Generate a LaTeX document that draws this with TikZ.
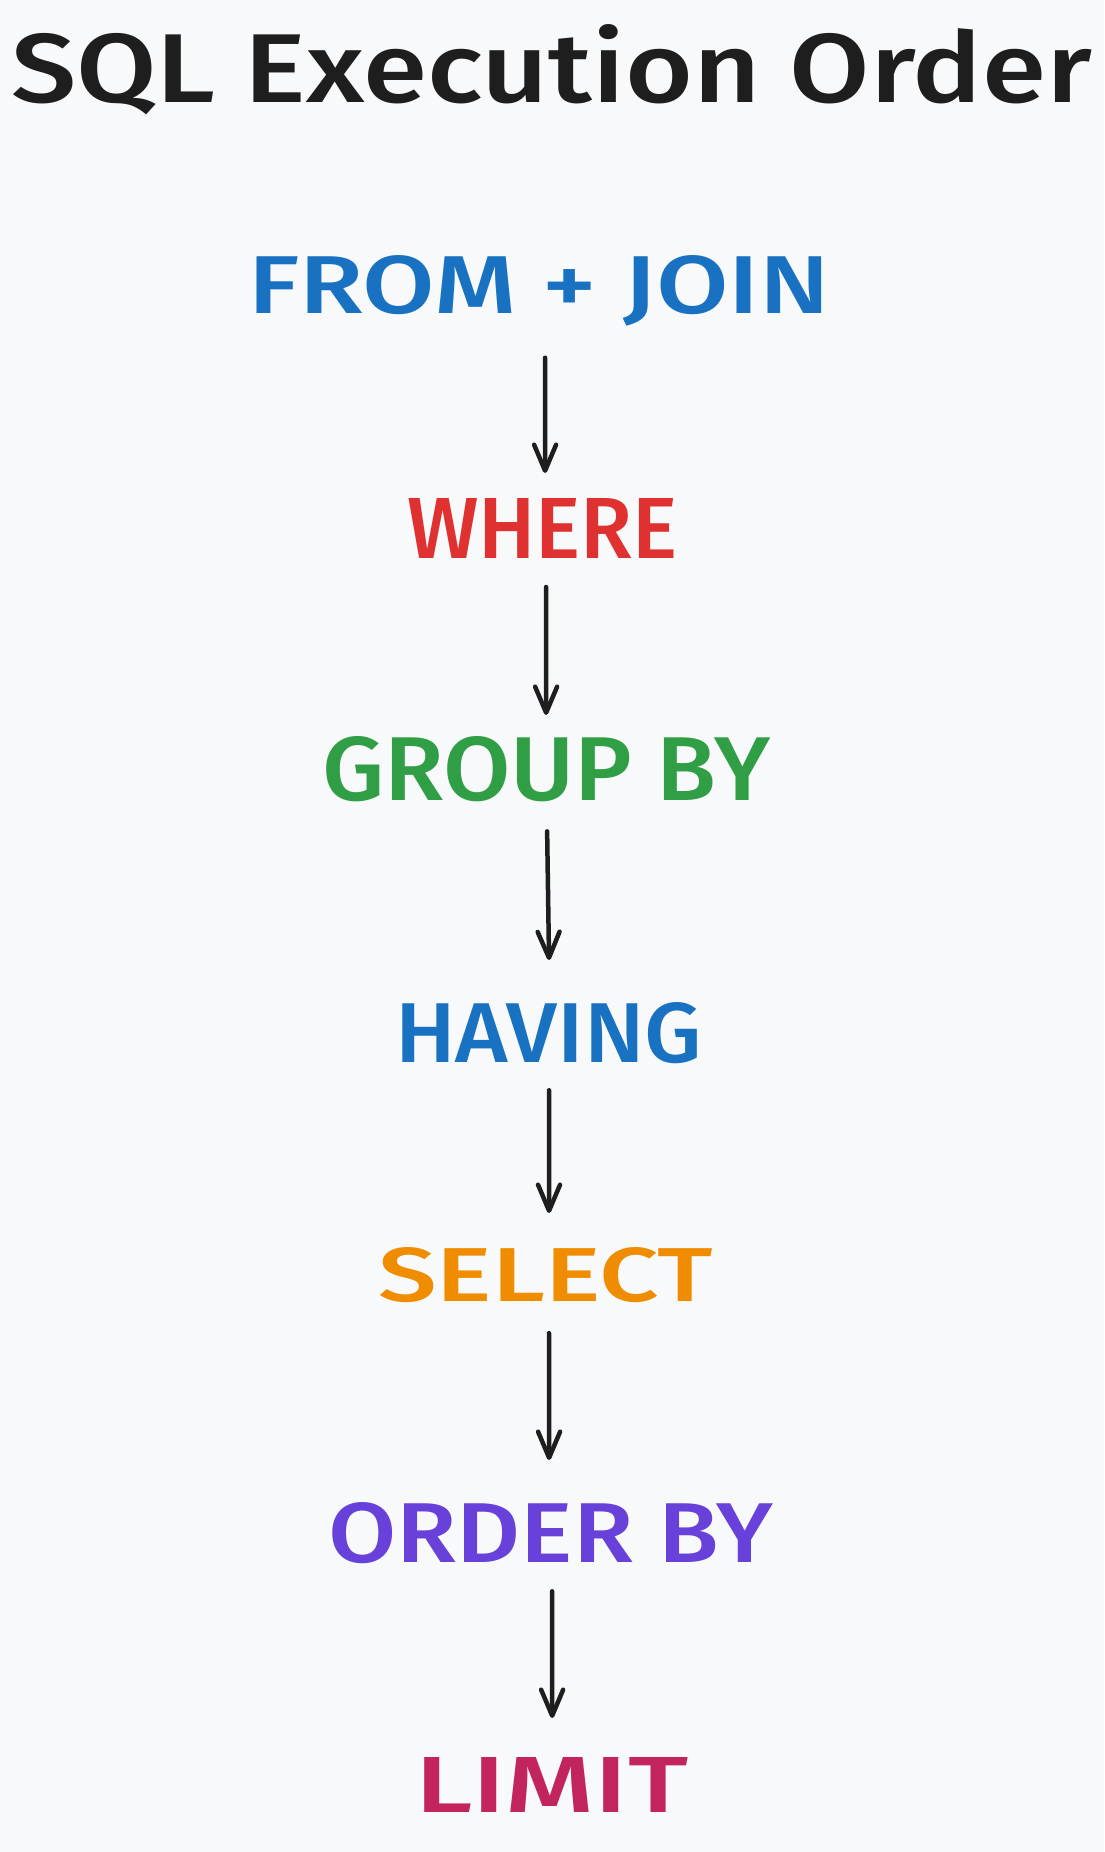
\documentclass[tikz,border=0pt]{standalone}
\usepackage{fontspec}
\setmainfont{Fira Sans}
\newfontfamily\medfont{Fira Sans Medium}
\usetikzlibrary{arrows.meta}
\definecolor{bg}{HTML}{F8F9FA}
\definecolor{ink}{HTML}{1E1E1E}
\definecolor{cblue}{HTML}{1971C2}
\definecolor{cred}{HTML}{E03131}
\definecolor{cgreen}{HTML}{2F9E44}
\definecolor{corange}{HTML}{F08C00}
\definecolor{cviolet}{HTML}{6741D9}
\definecolor{cpink}{HTML}{C2255C}
\tikzset{
  lbl/.style={inner sep=0pt, outer sep=0pt, anchor=base west, font=\medfont},
  ttl/.style={inner sep=0pt, outer sep=0pt, anchor=base west, text=ink, font=\medfont},
  arr/.style={draw=ink, line width=4.5pt, line cap=round,
    -{Straight Barb[length=26pt,width=22pt,line width=4.5pt,round]}}
}
\begin{document}
\begin{tikzpicture}[x=1pt,y=-1pt]
\fill[bg] (0,0) rectangle (1104,1852);
\useasboundingbox (0,0) rectangle (1104,1852);
\node[ttl] (title) at (11,102) {\resizebox{1081pt}{78pt}{SQL Execution Order}};
\node[lbl, text=cblue] (from) at (248,313) {\resizebox{582pt}{58pt}{FROM + JOIN}};
\node[lbl, text=cred] (where) at (407,558) {\resizebox{271pt}{60pt}{WHERE}};
\node[lbl, text=cgreen] (group) at (322,800) {\resizebox{448pt}{64pt}{GROUP BY}};
\node[lbl, text=cblue] (having) at (395,1062) {\resizebox{307pt}{60pt}{HAVING}};
\node[lbl, text=corange] (select) at (378,1301) {\resizebox{335pt}{54pt}{SELECT}};
\node[lbl, text=cviolet] (order) at (328,1562) {\resizebox{445pt}{60pt}{ORDER BY}};
\node[lbl, text=cpink] (limit) at (415,1812) {\resizebox{273pt}{55pt}{LIMIT}};
\draw[arr] ([xshift=6pt,yshift=-32pt]from.south) -- ([xshift=2.5pt,yshift=25pt]where.north);
\draw[arr] ([xshift=3.5pt,yshift=-29pt]where.south) -- ([xshift=0pt,yshift=21pt]group.north);
\draw[arr] ([xshift=1pt,yshift=-30pt]group.south) -- ([xshift=0.5pt,yshift=42pt]having.north);
\draw[arr] ([xshift=0.5pt,yshift=-27pt]having.south) -- ([xshift=3.5pt,yshift=34pt]select.north);
\draw[arr] ([xshift=3.5pt,yshift=-31pt]select.south) -- ([xshift=-1.5pt,yshift=42pt]order.north);
\draw[arr] ([xshift=1.5pt,yshift=-28pt]order.south) -- ([xshift=0.5pt,yshift=39pt]limit.north);
\end{tikzpicture}
\end{document}
